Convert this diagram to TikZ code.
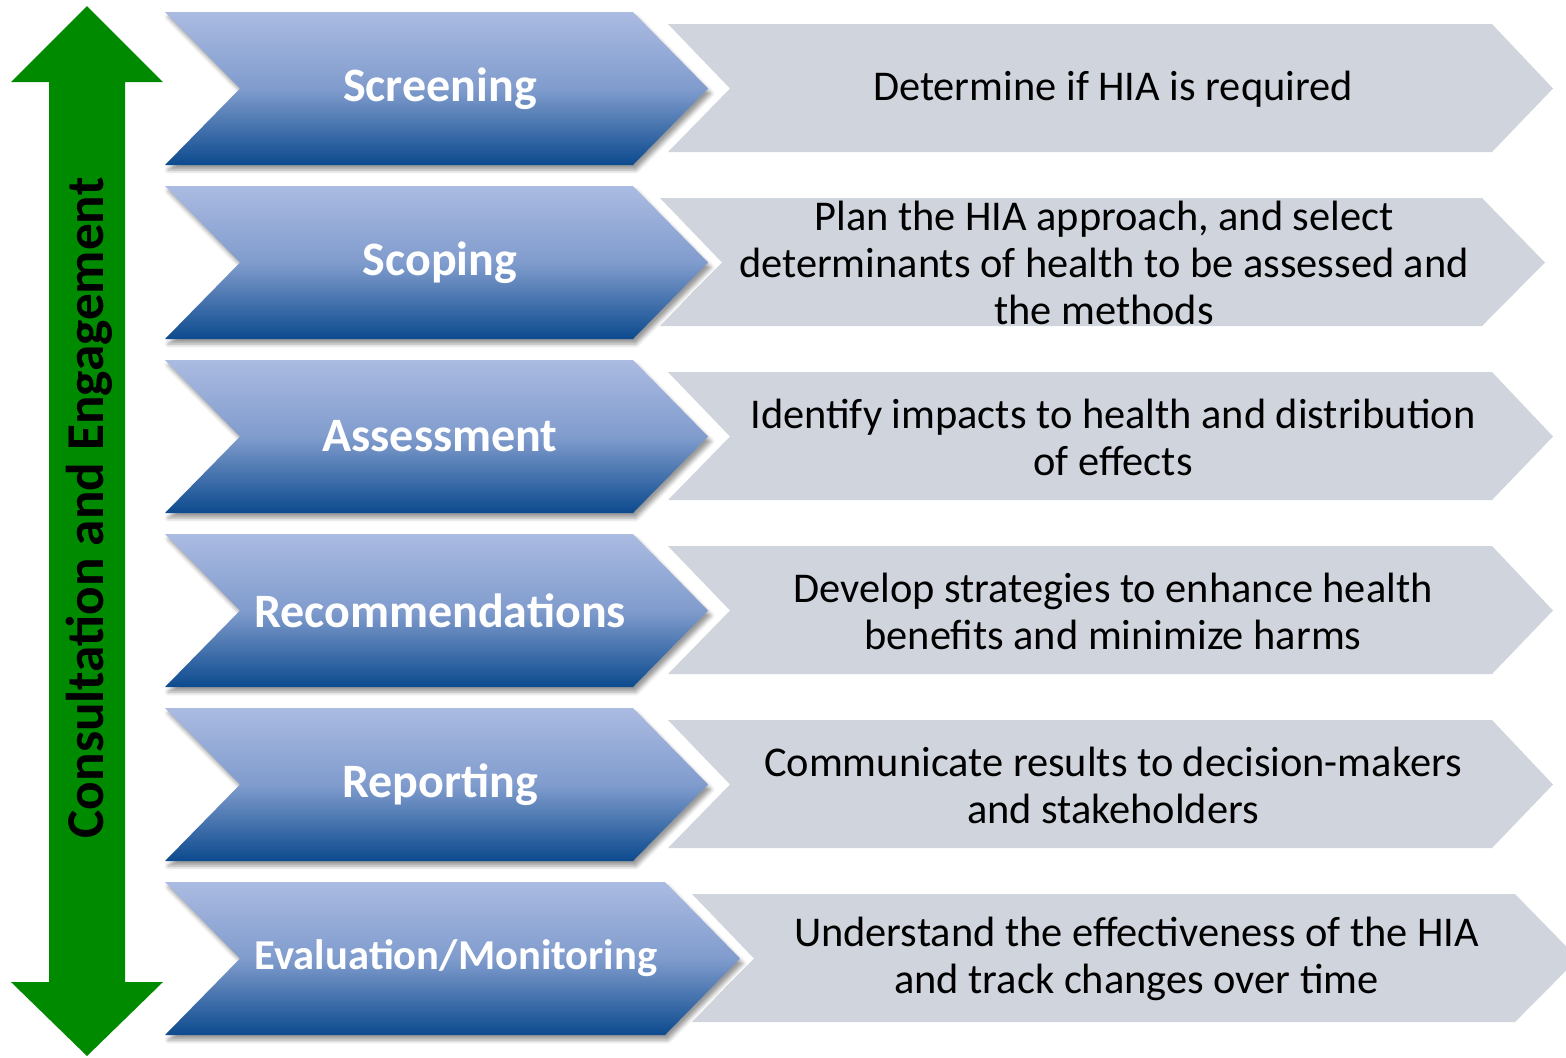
\documentclass[tikz,border=0pt]{standalone}
\usepackage{fontspec}
\setmainfont{Carlito}
\usetikzlibrary{shadows.blur}

\definecolor{consultgreen}{RGB}{0,138,0}
\definecolor{stagetop}{RGB}{171,187,226}
\definecolor{stagemid}{RGB}{128,156,205}
\definecolor{stagebot}{RGB}{12,74,142}
\definecolor{taskgray}{RGB}{208,212,221}

\tikzset{
	stage/.style={top color=stagetop, bottom color=stagebot, middle color=stagemid,
		blur shadow={shadow xshift=1.5pt, shadow yshift=-2.5pt, shadow blur radius=2pt}},
	task/.style={fill=taskgray},
	stagetext/.style={text=white, font=\bfseries\fontsize{24}{28}\selectfont},
	tasktext/.style={align=center, font=\fontsize{21.2}{23.5}\selectfont},
}

\begin{document}
\begin{tikzpicture}[x=0.5pt,y=-0.5pt]
\useasboundingbox (0,0) rectangle (1566,1057);
\clip (0,0) rectangle (1566,1057);
\fill[consultgreen] (87,6) -- (163,82) -- (125,82) -- (125,982) -- (163,982) -- (87,1056)
	-- (11,982) -- (49,982) -- (49,82) -- (11,82) -- cycle;
\node[rotate=90, font=\bfseries\fontsize{26.6}{30}\selectfont] (consult) at (89,508) {Consultation and Engagement};
\foreach \i/\bt/\gl/\gr/\gt/\stage/\task in {
	0/708/668/1492/1553/Screening/{Determine if HIA is required},
	1/708/660/1482/1545/Scoping/{Plan the HIA approach, and select\\determinants of health to be assessed and\\the methods},
	2/708/668/1492/1553/Assessment/{Identify impacts to health and distribution\\of effects},
	3/708/668/1492/1553/Recommendations/{Develop strategies to enhance health\\benefits and minimize harms},
	4/708/668/1492/1553/Reporting/{Communicate results to decision-makers\\and stakeholders},
	5/740/692/1515/1578/{\fontsize{21.3}{25}\selectfont Evaluation/Monitoring}/{Understand the effectiveness of the HIA\\and track changes over time}} {
	\pgfmathsetmacro{\y}{12+174*\i}
	\fill[task] (\gl,\y+12) -- (\gr,\y+12) -- (\gt,\y+76.5) -- (\gr,\y+140) -- (\gl,\y+140) -- (\gl+62,\y+76.5) -- cycle;
	\node[tasktext] (task\i) at ({(\gl+62+\gr)/2+2},\y+77) {\task};
	\path[stage] (165,\y) -- (\bt-75,\y) -- (\bt,\y+76.5) -- (\bt-75,\y+153) -- (165,\y+153) -- (240,\y+76.5) -- cycle;
	\node[stagetext] (stage\i) at ({(\bt+172)/2},\y+76.5) {\stage};
}
\end{tikzpicture}
\end{document}
